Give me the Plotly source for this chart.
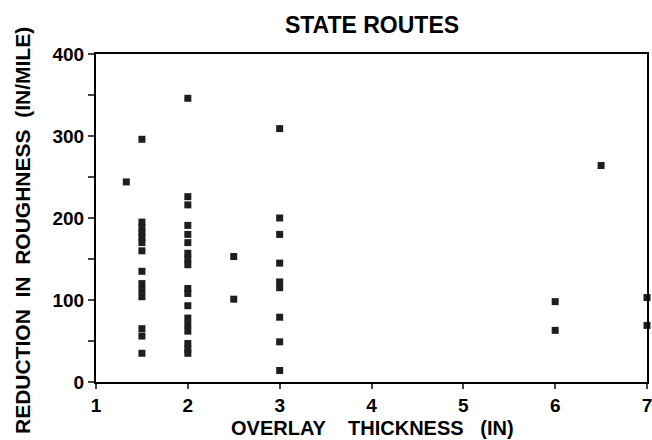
import plotly.graph_objects as go

thickness = [1.33,
             1.5, 1.5, 1.5, 1.5, 1.5, 1.5, 1.5, 1.5, 1.5, 1.5, 1.5, 1.5, 1.5, 1.5,
             2, 2, 2, 2, 2, 2, 2, 2, 2, 2, 2, 2, 2, 2, 2, 2, 2, 2,
             2.5, 2.5,
             3, 3, 3, 3, 3, 3, 3, 3, 3,
             6, 6, 6.5, 7, 7]
reduction = [244,
             296, 195, 188, 182, 176, 170, 160, 135, 120, 112, 104, 65, 56, 35,
             346, 226, 216, 191, 180, 170, 157, 150, 143, 114, 108, 93, 78, 70, 62, 47, 40, 35,
             153, 101,
             309, 200, 180, 145, 122, 115, 79, 49, 14,
             98, 63, 264, 103, 69]

x_ticks = [1, 2, 3, 4, 5, 6, 7]
y_ticks = [0, 50, 100, 150, 200, 250, 300, 350, 400]
y_labels = ["0", "", "100", "", "200", "", "300", "", "400"]

fig = go.Figure()
fig.add_trace(go.Scatter(
    x=thickness, y=reduction, mode="markers",
    marker=dict(symbol="square", size=7, color="#1e1e1e"),
    cliponaxis=False, showlegend=False))

font = "Liberation Sans, Arial, Helvetica, sans-serif"
sp2 = "\u00a0\u00a0"
sp3 = "\u00a0\u00a0\u00a0"
sp4 = "\u00a0\u00a0\u00a0\u00a0"
fig.update_layout(
    width=652, height=440,
    margin=dict(l=96, r=5, t=54, b=58, autoexpand=False),
    paper_bgcolor="white", plot_bgcolor="white",
    font=dict(family=font, color="black", size=19, weight="bold"),
    title=dict(text="STATE ROUTES", x=(372 - 96) / 551, xref="paper", xanchor="center",
               y=1 - 25 / 440, yref="container", yanchor="middle",
               font=dict(size=23, family=font, weight="bold")),
    xaxis=dict(range=[1, 7], tickvals=x_ticks, ticks="outside", ticklen=5, tickwidth=1.5,
               ticklabelstandoff=0, ticklabeloverflow="allow",
               showline=True, linecolor="black", linewidth=2, mirror=True,
               showgrid=False, zeroline=False, automargin=False,
               tickfont=dict(size=19, weight="bold")),
    yaxis=dict(range=[0, 400], tickvals=y_ticks, ticktext=y_labels, ticks="outside", ticklen=6,
               tickwidth=1.5,
               showline=True, linecolor="black", linewidth=2, mirror=True,
               showgrid=False, zeroline=False, automargin=False,
               tickfont=dict(size=19, weight="bold")),
    annotations=[
        dict(text="OVERLAY" + sp4 + "THICKNESS" + sp3 + "(IN)", xref="paper", yref="paper",
             x=(372 - 96) / 551, y=-(428 - 382) / 328, xanchor="center", yanchor="middle", showarrow=False,
             font=dict(size=20, family=font, weight="bold")),
        dict(text="REDUCTION" + sp2 + "IN" + sp2 + "ROUGHNESS" + sp2 + "(IN/MILE)", xref="paper", yref="paper",
             x=(23 - 96) / 551, y=(382 - 231) / 328, xanchor="center", yanchor="middle", showarrow=False,
             textangle=-90,
             font=dict(size=21, family=font, weight="bold")),
    ],
)
fig.write_html("out.html", config={"displayModeBar": False},
               post_script="document.body.style.margin='0';")
